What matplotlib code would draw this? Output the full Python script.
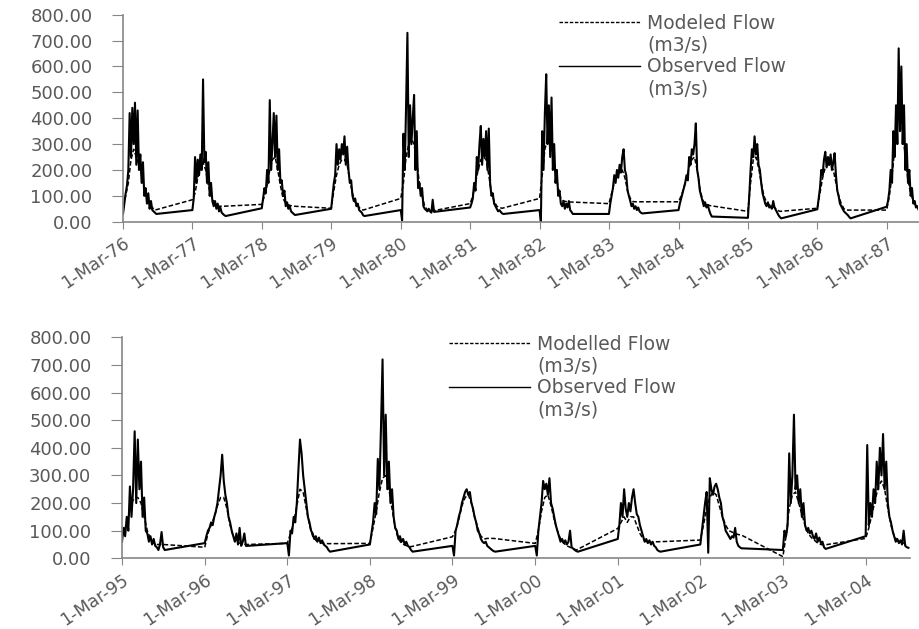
import datetime as dt
import matplotlib
matplotlib.use('Agg')
import matplotlib.pyplot as plt
import matplotlib.dates as mdates
from matplotlib.lines import Line2D
from matplotlib.ticker import FuncFormatter, FormatStrFormatter, MultipleLocator

# day offsets from 1 March of each season (observed weekly, modelled fortnightly)
OBS_DAYS_TOP = [0, 7, 14, 21, 28, 35, 42, 49, 56, 63, 70, 77, 84, 91, 98, 105,
                112, 119, 126, 133, 140, 147, 154, 161, 168, 175]
MOD_DAYS_TOP = [0, 14, 28, 42, 56, 70, 84, 98, 112, 126, 140, 154, 168]
OBS_DAYS_BOT = [0, 7, 14, 21, 28, 35, 42, 49, 56, 63, 70, 77, 84, 91, 98, 105,
                112, 119, 126, 133, 140, 147, 154, 161, 168, 175, 182, 189]
MOD_DAYS_BOT = [0, 14, 28, 42, 56, 70, 84, 98, 112, 126, 140, 154, 168, 182]

TOP_YEARS = [1976, 1977, 1978, 1979, 1980, 1981, 1982, 1983, 1984, 1985, 1986, 1987]
BOT_YEARS = [1995, 1996, 1997, 1998, 1999, 2000, 2001, 2002, 2003, 2004]

# ---- top panel, flow in m3/s ----
OBS_1976 = [30, 70, 110, 140, 200, 420, 250, 440, 300, 460, 220, 430, 200, 260, 150, 230, 100, 130, 70, 110, 50, 80, 45, 40, 35, 30]
MOD_1976 = [60, 100, 150, 240, 280, 250, 220, 180, 130, 90, 70, 55, 45]
OBS_1977 = [45, 90, 250, 150, 240, 180, 260, 200, 550, 230, 270, 150, 230, 100, 150, 80, 60, 80, 50, 70, 40, 55, 35, 30, 25, 22]
MOD_1977 = [85, 110, 170, 200, 230, 200, 140, 100, 80, 65, 60, 60, 60]
OBS_1978 = [52, 90, 130, 110, 200, 150, 470, 200, 300, 420, 250, 410, 200, 280, 150, 160, 100, 120, 60, 75, 50, 60, 40, 35, 30, 26]
MOD_1978 = [67, 100, 140, 200, 240, 250, 200, 140, 90, 70, 65, 62, 60]
OBS_1979 = [50, 100, 150, 180, 300, 220, 280, 240, 300, 260, 330, 220, 290, 200, 150, 160, 100, 80, 90, 60, 70, 45, 40, 35, 25, 22]
MOD_1979 = [52, 120, 180, 220, 240, 240, 220, 160, 110, 75, 60, 50, 45]
OBS_1980 = [45, 5, 340, 200, 450, 730, 250, 450, 300, 400, 490, 200, 350, 130, 150, 100, 130, 60, 50, 45, 40, 50, 40, 35, 85, 38]
MOD_1980 = [90, 150, 250, 300, 320, 300, 230, 150, 100, 60, 45, 42, 42]
OBS_1981 = [55, 70, 90, 150, 120, 250, 200, 300, 370, 220, 320, 250, 350, 200, 360, 150, 100, 110, 70, 60, 50, 40, 45, 38, 32, 30]
MOD_1981 = [70, 100, 150, 200, 240, 250, 240, 180, 110, 80, 60, 55, 52]
OBS_1982 = [45, 0, 350, 200, 420, 570, 300, 450, 250, 480, 200, 300, 150, 200, 100, 120, 70, 60, 80, 50, 70, 55, 80, 45, 38, 30]
MOD_1982 = [90, 180, 280, 320, 310, 270, 190, 130, 90, 80, 78, 77, 76]
OBS_1983 = [30, 70, 100, 130, 180, 150, 200, 170, 220, 190, 250, 280, 200, 180, 120, 100, 80, 60, 70, 50, 60, 45, 55, 40, 35, 32]
MOD_1983 = [70, 110, 150, 180, 190, 200, 170, 120, 90, 78, 77, 77, 77]
OBS_1984 = [45, 70, 90, 110, 130, 150, 180, 160, 250, 220, 280, 260, 300, 380, 200, 170, 120, 100, 80, 60, 75, 55, 65, 45, 30, 20]
MOD_1984 = [77, 100, 130, 170, 210, 240, 250, 200, 130, 85, 70, 65, 62]
OBS_1985 = [15, 100, 200, 280, 250, 330, 260, 300, 220, 200, 150, 110, 90, 70, 60, 75, 55, 60, 50, 80, 55, 45, 35, 25, 18, 13]
MOD_1985 = [40, 150, 240, 250, 210, 150, 100, 75, 65, 60, 55, 45, 40]
OBS_1986 = [48, 90, 130, 200, 180, 240, 270, 210, 250, 220, 260, 200, 230, 265, 180, 120, 100, 70, 60, 50, 40, 35, 30, 25, 18, 13]
MOD_1986 = [52, 110, 170, 210, 220, 220, 200, 150, 100, 70, 50, 45, 45]
OBS_1987 = [58, 80, 120, 200, 150, 350, 250, 450, 300, 670, 350, 600, 300, 450, 200, 300, 150, 200, 100, 130, 70, 80, 55, 60, 45, 40]
MOD_1987 = [45, 100, 180, 280, 380, 420, 350, 250, 160, 110, 80, 60, 50]

# ---- bottom panel ----
OBS_1995 = [60, 110, 80, 150, 100, 260, 150, 250, 460, 200, 430, 250, 350, 150, 220, 100, 90, 60, 80, 50, 70, 45, 40, 30, 50, 95, 40, 30]
MOD_1995 = [80, 110, 150, 200, 220, 220, 200, 150, 100, 70, 55, 50, 50, 50]
OBS_1996 = [55, 80, 100, 110, 130, 120, 150, 170, 200, 250, 300, 375, 280, 230, 200, 150, 130, 100, 80, 60, 90, 50, 110, 45, 60, 90, 45, 45]
MOD_1996 = [40, 90, 120, 150, 190, 220, 220, 180, 120, 80, 60, 55, 52, 50]
OBS_1997 = [55, 10, 100, 90, 150, 130, 200, 320, 430, 380, 300, 250, 200, 150, 130, 100, 90, 70, 80, 60, 75, 55, 65, 50, 45, 40, 30, 24]
MOD_1997 = [54, 90, 130, 190, 250, 240, 180, 120, 80, 65, 58, 55, 54, 53]
OBS_1998 = [50, 90, 130, 200, 160, 360, 250, 470, 720, 300, 520, 250, 350, 200, 250, 150, 110, 100, 70, 80, 60, 70, 50, 60, 45, 40, 30, 24]
MOD_1998 = [54, 110, 170, 240, 290, 300, 250, 180, 110, 70, 55, 48, 44, 42]
OBS_1999 = [45, 10, 100, 120, 150, 170, 200, 220, 240, 250, 230, 240, 200, 180, 150, 130, 100, 90, 70, 60, 55, 60, 45, 40, 35, 30, 26, 24]
MOD_1999 = [78, 100, 140, 190, 220, 230, 200, 150, 110, 80, 70, 72, 72, 72]
OBS_2000 = [45, 10, 100, 150, 200, 280, 250, 270, 230, 290, 200, 180, 150, 120, 100, 80, 60, 70, 55, 65, 50, 60, 100, 40, 35, 30, 26, 24]
MOD_2000 = [54, 100, 170, 220, 230, 190, 140, 100, 70, 55, 45, 40, 35, 30]
OBS_2001 = [70, 120, 200, 150, 250, 180, 150, 200, 170, 220, 250, 200, 160, 150, 120, 100, 80, 60, 70, 55, 65, 50, 60, 45, 40, 30, 26, 24]
MOD_2001 = [108, 130, 150, 130, 150, 150, 120, 90, 70, 60, 58, 57, 60, 60]
OBS_2002 = [50, 100, 150, 200, 240, 20, 290, 250, 230, 260, 270, 250, 220, 200, 150, 130, 100, 90, 80, 70, 80, 75, 110, 60, 45, 40, 36, 36]
MOD_2002 = [66, 120, 180, 220, 240, 230, 190, 150, 120, 100, 95, 90, 86, 84]
OBS_2003 = [30, 100, 80, 120, 380, 200, 300, 520, 250, 300, 200, 250, 150, 200, 120, 100, 110, 90, 100, 80, 70, 90, 60, 75, 55, 60, 40, 34]
MOD_2003 = [6, 80, 180, 230, 240, 200, 160, 120, 90, 75, 65, 55, 50, 48]
OBS_2004 = [80, 410, 120, 200, 150, 250, 200, 350, 250, 400, 300, 450, 250, 350, 200, 150, 130, 100, 80, 60, 70, 55, 65, 50, 100, 45, 40, 38]
MOD_2004 = [72, 110, 160, 210, 260, 280, 250, 180, 120, 80, 65, 60, 55, 50]

OBS_TOP = [OBS_1976, OBS_1977, OBS_1978, OBS_1979, OBS_1980, OBS_1981,
           OBS_1982, OBS_1983, OBS_1984, OBS_1985, OBS_1986, OBS_1987]
MOD_TOP = [MOD_1976, MOD_1977, MOD_1978, MOD_1979, MOD_1980, MOD_1981,
           MOD_1982, MOD_1983, MOD_1984, MOD_1985, MOD_1986, MOD_1987]
OBS_BOT = [OBS_1995, OBS_1996, OBS_1997, OBS_1998, OBS_1999,
           OBS_2000, OBS_2001, OBS_2002, OBS_2003, OBS_2004]
MOD_BOT = [MOD_1995, MOD_1996, MOD_1997, MOD_1998, MOD_1999,
           MOD_2000, MOD_2001, MOD_2002, MOD_2003, MOD_2004]

GREY_TXT = '#595959'
GREY_AX = '#868686'


def season_series(years, days, seasons):
    x, y = [], []
    for yr, vals in zip(years, seasons):
        start = dt.datetime(yr, 3, 1)
        for d, v in zip(days, vals):
            x.append(start + dt.timedelta(days=d))
            y.append(v)
    return x, y


def date_label(val, pos):
    d = mdates.num2date(val)
    return '{}-{}'.format(d.day, d.strftime('%b-%y'))


def style_axes(ax, xmin, xmax):
    ax.set_xlim(xmin, xmax)
    ax.set_ylim(0, 800)
    ax.yaxis.set_major_locator(MultipleLocator(100))
    ax.yaxis.set_major_formatter(FormatStrFormatter('%.2f'))
    ax.xaxis.set_major_locator(mdates.YearLocator(base=1, month=3, day=1))
    ax.xaxis.set_major_formatter(FuncFormatter(date_label))
    for s in ['top', 'right']:
        ax.spines[s].set_visible(False)
    for s in ['left', 'bottom']:
        ax.spines[s].set_color(GREY_AX)
        ax.spines[s].set_linewidth(1.2)
    ax.tick_params(axis='y', length=8, color=GREY_AX, pad=14,
                   labelsize=13, labelcolor=GREY_TXT)
    ax.tick_params(axis='x', length=5, color=GREY_AX, pad=4,
                   labelsize=12.5, labelcolor=GREY_TXT)
    for lab in ax.get_xticklabels():
        lab.set_rotation(34)
        lab.set_ha('right')
        lab.set_rotation_mode('anchor')


def add_legend(ax, mod_label, anchor):
    handles = [Line2D([], [], color='black', lw=1.0, ls=(0, (2.5, 1.2))),
               Line2D([], [], ls='none'),
               Line2D([], [], color='black', lw=1.0),
               Line2D([], [], ls='none')]
    labels = [mod_label, '(m3/s)', 'Observed Flow', '(m3/s)']
    ax.legend(handles, labels, loc='upper left', bbox_to_anchor=anchor,
              bbox_transform=ax.figure.transFigure, frameon=False,
              fontsize=13.5, labelcolor=GREY_TXT, handlelength=4.3,
              handletextpad=0.4, labelspacing=0.15, borderpad=0,
              borderaxespad=0)


fig = plt.figure(figsize=(9.2, 6.29), dpi=100)
ax1 = fig.add_axes([0.1337, 0.6475, 0.864, 0.3291])
ax2 = fig.add_axes([0.1326, 0.1124, 0.857, 0.3513])

x, y = season_series(TOP_YEARS, OBS_DAYS_TOP, OBS_TOP)
ax1.plot(x, y, color='black', lw=1.5)
x, y = season_series(TOP_YEARS, MOD_DAYS_TOP, MOD_TOP)
ax1.plot(x, y, color='black', lw=1.1, ls=(0, (3, 1.5)))
style_axes(ax1, dt.datetime(1976, 3, 1), dt.datetime(1987, 8, 12))
add_legend(ax1, 'Modeled Flow', (0.608, 0.978))

x, y = season_series(BOT_YEARS, OBS_DAYS_BOT, OBS_BOT)
ax2.plot(x, y, color='black', lw=1.5)
x, y = season_series(BOT_YEARS, MOD_DAYS_BOT, MOD_BOT)
ax2.plot(x, y, color='black', lw=1.1, ls=(0, (3, 1.5)))
style_axes(ax2, dt.datetime(1995, 3, 1), dt.datetime(2004, 9, 15))
add_legend(ax2, 'Modelled Flow', (0.488, 0.468))

fig.savefig('out.png', dpi=100)
